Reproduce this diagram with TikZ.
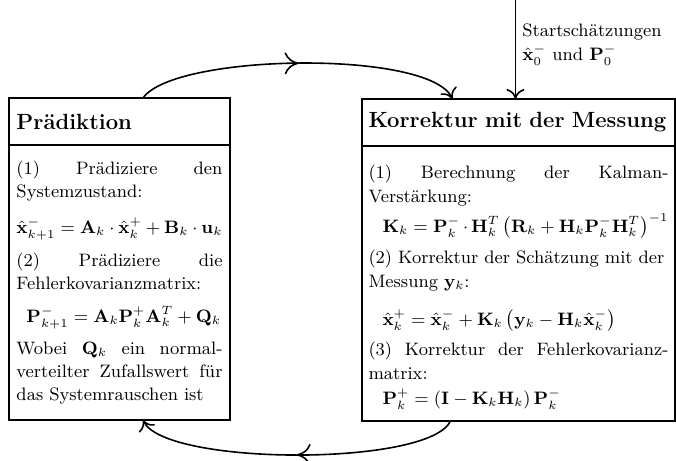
\documentclass[tikz,border=0pt]{standalone}
\usepackage{amsmath,amssymb}
\usepackage{tikz}
\usetikzlibrary{arrows.meta,positioning,calc,decorations.markings}
\tikzset{
  headbox/.style={draw,line width=0.7pt,outer sep=0pt,inner ysep=2pt,
    minimum height=23.5pt,text width=#1,align=left,
    font=\fontsize{11}{13}\selectfont\bfseries},
  bodybox/.style={draw,line width=0.7pt,outer sep=0pt,inner ysep=2pt,
    minimum height=137.5pt,text width=#1,align=left,
    font=\fontsize{9}{11.5}\selectfont,
    execute at begin node={\lineskiplimit=-20pt}},
  arrow/.style={-{To[length=5pt,width=9pt]},line width=0.8pt},
  cyclearrow/.style={arrow,postaction={decorate},decoration={markings,
    mark=at position 0.5 with {\arrow{To[length=7pt,width=11pt]}}}},
  labelstyle/.style={font=\fontsize{9}{12}\selectfont,align=left,inner sep=2pt}
}

\begin{document}
\begin{tikzpicture}[x=0.5pt,y=-0.5pt]
  \path[use as bounding box,fill=white] (0,0) rectangle (676,461);
  % Praediktion
  \node[headbox=103pt,inner xsep=3.75pt,anchor=north west] (praedtitel) at (9,98) {Prädiktion};
  \node[bodybox=103pt,inner xsep=3.75pt,below=0pt of praedtitel] (praedinhalt) {%
    (1)\hfill Prädiziere\hfill den\\
    Systemzustand:\\[6.5pt]
    $\hat{\mathbf{x}}_{k+1}^{-}=\mathbf{A}_k\cdot\hat{\mathbf{x}}_k^{+}+\mathbf{B}_k\cdot\mathbf{u}_k$\\[5pt]
    (2)\hfill Prädiziere\hfill die\\
    Fehlerkovarianzmatrix:\\[5pt]
    \hspace*{5pt}$\mathbf{P}_{k+1}^{-}=\mathbf{A}_k\mathbf{P}_k^{+}\mathbf{A}_k^{T}+\mathbf{Q}_k$\\[4.5pt]
    Wobei\hfill $\mathbf{Q}_k$\hfill ein\hfill normal-\\
    verteilter\hfill Zufallswert\hfill für\\
    das Systemrauschen ist};
  % Korrektur
  \node[headbox=150pt,inner xsep=3.25pt,anchor=north west] (korrtitel) at (362,99) {Korrektur mit der Messung};
  \node[bodybox=150pt,inner xsep=3.25pt,below=0pt of korrtitel] (korrinhalt) {%
    \rule{0pt}{10.5pt}(1)\hfill Berechnung\hfill der\hfill Kalman-\\[0.5pt]
    Verstärkung:\\[3.5pt]
    \hspace*{7pt}$\mathbf{K}_k=\mathbf{P}_k^{-}\cdot\mathbf{H}_k^{T}\left(\mathbf{R}_k+\mathbf{H}_k\mathbf{P}_k^{-}\mathbf{H}_k^{T}\right)^{-1}$\\[4pt]
    (2) Korrektur der Schätzung mit der\\[0.5pt]
    Messung $\mathbf{y}_k$:\\[7.5pt]
    \hspace*{7pt}$\hat{\mathbf{x}}_k^{+}=\hat{\mathbf{x}}_k^{-}+\mathbf{K}_k\left(\mathbf{y}_k-\mathbf{H}_k\hat{\mathbf{x}}_k^{-}\right)$\\[3.5pt]
    (3)\hfill Korrektur\hfill der\hfill Fehlerkovarianz-\\[0.5pt]
    matrix:\\[1pt]
    \hspace*{7pt}$\mathbf{P}_k^{+}=\left(\mathbf{I}-\mathbf{K}_k\mathbf{H}_k\right)\mathbf{P}_k^{-}$};
  % Startwerte
  \coordinate (start) at ($(korrtitel.north)+(-3,-99)$);
  \draw[arrow] (start) -- node[labelstyle,pos=0.45,right=1pt] (startwerte)
    {Startschätzungen\\ $\hat{\mathbf{x}}_0^{-}$ und $\mathbf{P}_0^{-}$} (korrtitel.north -| start);
  % Kreislauf
  \draw[cyclearrow] ($(praedtitel.north)+(23.5,0)$) to[out=55,in=115,looseness=0.45]
    ($(korrtitel.north)+(-66,0)$);
  \draw[cyclearrow] ($(korrinhalt.south)+(-68,0)$) to[out=-115,in=-65,looseness=0.42]
    ($(praedinhalt.south)+(23.5,0)$);
\end{tikzpicture}
\end{document}
